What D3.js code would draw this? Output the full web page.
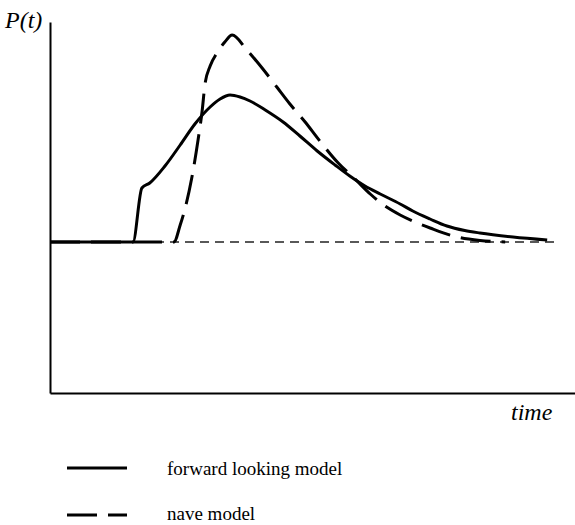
<!DOCTYPE html>
<html>
<head>
<meta charset="utf-8">
<script src="https://cdn.jsdelivr.net/npm/d3@7"></script>
<style>
  html, body { margin: 0; padding: 0; background: #fff; }
  svg { display: block; }
  text { font-family: "Liberation Serif", "Times New Roman", serif; fill: #000; }
</style>
</head>
<body>
<svg id="chart" width="575" height="525"></svg>
<script>
// ---- data (time in arbitrary units 0-100, P(t) deviation from baseline) ----
const forwardTime = [0, 15.8, 17.5, 19.0, 21.9, 24.8, 27.6, 30.5, 32.4, 34.3, 36.2, 38.1, 41.0, 44.4, 47.6, 50.9, 54.3, 57.1, 60.0, 62.9, 66.7, 69.1, 72.4, 75.6, 79.0, 81.9, 88.2, 94.7];
const forwardP    = [0, 0,    0.54, 0.59, 0.76, 0.97, 1.18, 1.35, 1.43, 1.47, 1.45, 1.41, 1.32, 1.20, 1.06, 0.91, 0.77, 0.66, 0.56, 0.48, 0.38, 0.31, 0.23, 0.16, 0.115, 0.09, 0.05, 0.02];

const naiveTime = [0, 23.6, 24.8, 25.9, 27.0, 28.2, 29.0, 29.5, 30.5, 31.8, 33.3, 34.7, 37.5, 40.4, 43.2, 45.7, 48.6, 51.4, 54.9, 58.1, 61.0, 63.8, 66.7, 69.5, 72.4, 77.5, 81.9, 86.7];
const naiveP    = [0, 0,    0.17, 0.37, 0.64, 1.02, 1.32, 1.57, 1.76, 1.89, 2.00, 2.07, 1.92, 1.74, 1.55, 1.38, 1.20, 1.01, 0.79, 0.63, 0.48, 0.36, 0.27, 0.20, 0.14, 0.05, 0.015, 0];

const baselineTime = [0, 96.6];
const baselineP    = [0, 0];

const seriesNames = ["forward looking model", "nave model"];
const yLabel = "P(t)";
const xLabel = "time";

// ---- layout ----
const svg = d3.select("#chart");
const x = d3.scaleLinear().domain([0, 100]).range([50, 575]);
const y = d3.scaleLinear().domain([-1.51, 2.2]).range([393, 22]);

const zip = (ts, ps) => ts.map((t, i) => ({ t, p: ps[i] }));
const line = d3.line().x(d => x(d.t)).y(d => y(d.p)).curve(d3.curveMonotoneX);

// axes (no ticks)
const xAxis = d3.axisBottom(x).tickValues([]).tickSizeOuter(0);
const yAxis = d3.axisLeft(y).tickValues([]).tickSizeOuter(0);
svg.append("g").attr("transform", `translate(0,${y(-1.51)})`).call(xAxis)
  .select(".domain").attr("stroke", "#000").attr("stroke-width", 2);
svg.append("g").attr("transform", `translate(${x(0)},0)`).call(yAxis)
  .select(".domain").attr("stroke", "#000").attr("stroke-width", 2);

// baseline (thin dashed)
svg.append("path")
  .datum(zip(baselineTime, baselineP))
  .attr("d", d3.line().x(d => x(d.t)).y(d => y(d.p)))
  .attr("fill", "none").attr("stroke", "#222").attr("stroke-width", 1.5)
  .attr("stroke-dasharray", "9,6");

// naive model (thick dashed)
svg.append("path")
  .datum(zip(naiveTime, naiveP))
  .attr("d", line)
  .attr("fill", "none").attr("stroke", "#000").attr("stroke-width", 3)
  .attr("stroke-dasharray", "30,11");

// forward looking model (solid)
svg.append("path")
  .datum(zip(forwardTime, forwardP))
  .attr("d", line)
  .attr("fill", "none").attr("stroke", "#000").attr("stroke-width", 3);

// axis labels
svg.append("text").attr("x", 5).attr("y", 28)
  .attr("font-size", 24).attr("font-style", "italic").text(yLabel);
svg.append("text").attr("x", 511).attr("y", 420)
  .attr("font-size", 24).attr("font-style", "italic").text(xLabel);

// legend
const legend = svg.append("g");
const legendRows = [
  { name: seriesNames[0], dash: null, ly: 468, ty: 475 },
  { name: seriesNames[1], dash: "30,11", ly: 515, ty: 520 }
];
legendRows.forEach(r => {
  legend.append("line").attr("x1", 67).attr("x2", 127).attr("y1", r.ly).attr("y2", r.ly)
    .attr("stroke", "#000").attr("stroke-width", 3)
    .attr("stroke-dasharray", r.dash);
  legend.append("text").attr("x", 167).attr("y", r.ty)
    .attr("font-size", 19).text(r.name);
});
</script>
</body>
</html>
